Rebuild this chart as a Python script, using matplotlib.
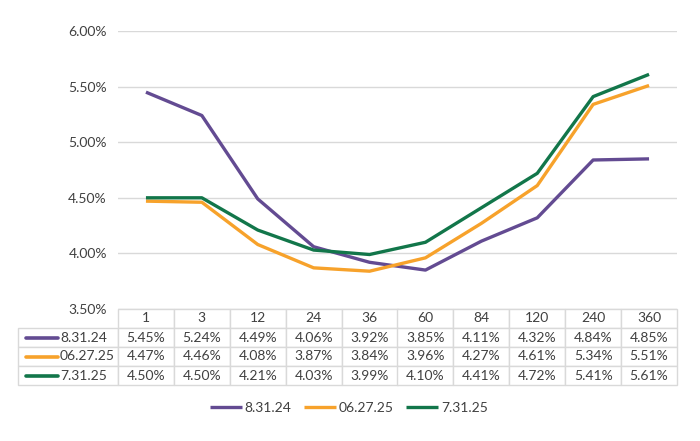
import matplotlib.pyplot as plt
from matplotlib.ticker import PercentFormatter

plt.rcParams['font.family'] = ['Lato', 'DejaVu Sans']

tenors = ["1", "3", "12", "24", "36", "60", "84", "120", "240", "360"]
series_names = ["8.31.24", "06.27.25", "7.31.25"]
aug_24 = [5.45, 5.24, 4.49, 4.06, 3.92, 3.85, 4.11, 4.32, 4.84, 4.85]
jun_25 = [4.47, 4.46, 4.08, 3.87, 3.84, 3.96, 4.27, 4.61, 5.34, 5.51]
jul_25 = [4.50, 4.50, 4.21, 4.03, 3.99, 4.10, 4.41, 4.72, 5.41, 5.61]
y_ticks = [3.5, 4.0, 4.5, 5.0, 5.5, 6.0]

colors = ["#634B92", "#F7A22B", "#12764A"]
grid_col = "#D9D9D9"
text_col = "#404040"

W, H = 700, 441
fig = plt.figure(figsize=(W / 100, H / 100), dpi=100)

# plot area in pixel terms
left, right, top, bottom = 118, 677, 31, 309
ax = fig.add_axes([left / W, 1 - bottom / H, (right - left) / W, (bottom - top) / H])

x = list(range(len(tenors)))
for vals, name, c in zip([aug_24, jun_25, jul_25], series_names, colors):
    ax.plot(x, vals, color=c, lw=2.4, label=name, solid_capstyle='butt')

ax.set_xlim(-0.5, len(tenors) - 0.5)
ax.set_ylim(3.5, 6.0)
ax.set_yticks(y_ticks)
ax.yaxis.set_major_formatter(PercentFormatter(decimals=2))
ax.tick_params(axis='y', length=0, labelsize=10, labelcolor=text_col, pad=8)
ax.set_xticks([])
ax.grid(axis='y', color=grid_col, lw=1)
for s in ax.spines.values():
    s.set_visible(False)

# data table under the plot; label column is the first table column
row_h = 19
tab_left, tab_bottom = 18, 385
pw, ph = right - left, bottom - top
cell_text = [[name] + [f"{v:.2f}%" for v in vals]
             for name, vals in zip(series_names, [aug_24, jun_25, jul_25])]
tbl_h = (tab_bottom - bottom) / ph
label_w = (left - tab_left) / pw
col_w = 1 / len(tenors)
tbl = ax.table(cellText=cell_text, colLabels=[""] + tenors,
               cellLoc='center', colWidths=[label_w] + [col_w] * len(tenors),
               bbox=[-label_w, -tbl_h, 1 + label_w, tbl_h])
tbl.auto_set_font_size(False)
for (r, c), cell in tbl.get_celld().items():
    cell.set_edgecolor(grid_col)
    cell.set_linewidth(1)
    cell.get_text().set_fontsize(10)
    cell.get_text().set_color(text_col)
    if c == 0:
        cell.get_text().set_horizontalalignment('left')
        cell.PAD = 0.42
        if r == 0:
            cell.set_visible(False)

# colour swatches in row labels
for i, c in enumerate(colors):
    yc = bottom + row_h * (i + 1.5)
    ax.plot([(26 - left) / pw, (58 - left) / pw], [-(yc - bottom) / ph] * 2,
            transform=ax.transAxes, color=c, lw=2.6, clip_on=False,
            solid_capstyle='round')

fig.legend(*ax.get_legend_handles_labels(), loc='center', ncol=3,
           bbox_to_anchor=(349 / W, 1 - 408 / H), frameon=False,
           fontsize=10, labelcolor=text_col, handlelength=2.3,
           handletextpad=0.2, columnspacing=0.9)

fig.savefig("out.png", dpi=100)
